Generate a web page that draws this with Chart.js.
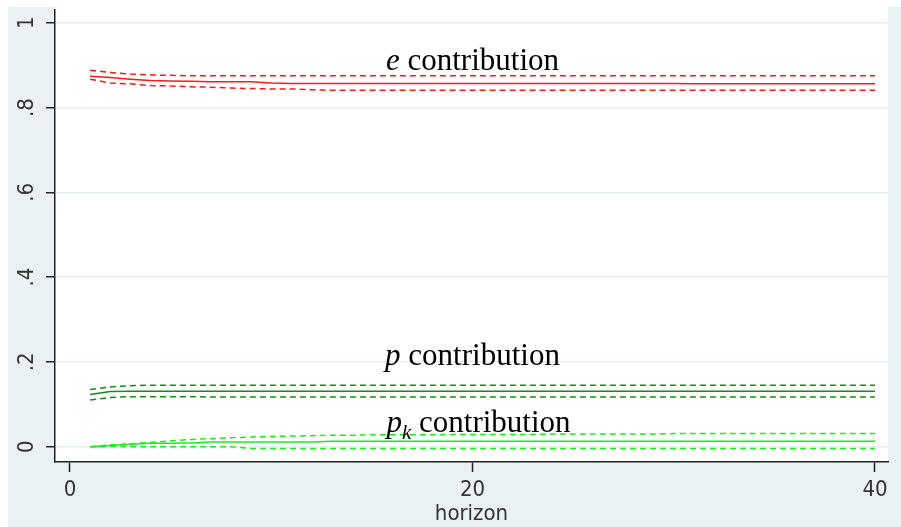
<!doctype html>
<html lang="en">
<head>
  <meta charset="utf-8">
  <title>Variance decomposition</title>
  <style>
    * { margin: 0; padding: 0; }
    body { background: white; }
    .chartBox { width: 901px; height: 527px; }
  </style>
</head>
<body>
  <div class="chartBox">
    <canvas id="myChart"></canvas>
  </div>
  <script src="https://cdn.jsdelivr.net/npm/chart.js"></script>
  <script>
    // data
    const horizon = [1, 2, 3, 4, 5, 6, 7, 8, 9, 10, 11, 12, 13, 14, 15, 16, 17, 18, 19, 20,
      21, 22, 23, 24, 25, 26, 27, 28, 29, 30, 31, 32, 33, 34, 35, 36, 37, 38, 39, 40];

    // e contribution
    const eMid = [0.874, 0.871, 0.867, 0.864, 0.863, 0.862, 0.861, 0.861, 0.861, 0.858,
      0.857, 0.857, 0.857, 0.857, 0.857, 0.857, 0.857, 0.857, 0.857, 0.857,
      0.857, 0.857, 0.857, 0.857, 0.857, 0.857, 0.857, 0.857, 0.857, 0.857,
      0.856, 0.856, 0.856, 0.856, 0.856, 0.856, 0.856, 0.856, 0.856, 0.856];
    const eHi = [0.888, 0.883, 0.879, 0.877, 0.876, 0.875, 0.875, 0.875, 0.875, 0.875,
      0.875, 0.875, 0.875, 0.875, 0.875, 0.875, 0.875, 0.875, 0.875, 0.875,
      0.875, 0.875, 0.875, 0.875, 0.875, 0.875, 0.875, 0.875, 0.875, 0.875,
      0.875, 0.875, 0.875, 0.875, 0.875, 0.875, 0.875, 0.875, 0.875, 0.875];
    const eLo = [0.867, 0.858, 0.856, 0.852, 0.851, 0.849, 0.848, 0.846, 0.845, 0.844,
      0.844, 0.842, 0.841, 0.841, 0.841, 0.841, 0.841, 0.841, 0.841, 0.841,
      0.841, 0.841, 0.841, 0.841, 0.841, 0.841, 0.841, 0.841, 0.841, 0.841,
      0.841, 0.841, 0.841, 0.841, 0.841, 0.841, 0.841, 0.841, 0.841, 0.841];

    // p contribution
    const pMid = [0.123, 0.130, 0.131, 0.131, 0.131, 0.131, 0.131, 0.131, 0.131, 0.131,
      0.131, 0.131, 0.131, 0.131, 0.131, 0.131, 0.131, 0.131, 0.131, 0.131,
      0.131, 0.131, 0.131, 0.131, 0.131, 0.131, 0.131, 0.131, 0.131, 0.131,
      0.131, 0.131, 0.131, 0.131, 0.131, 0.131, 0.131, 0.131, 0.131, 0.131];
    const pHi = [0.135, 0.141, 0.144, 0.145, 0.145, 0.145, 0.145, 0.145, 0.145, 0.145,
      0.145, 0.145, 0.145, 0.145, 0.145, 0.145, 0.145, 0.145, 0.145, 0.145,
      0.145, 0.145, 0.145, 0.145, 0.145, 0.145, 0.145, 0.145, 0.145, 0.145,
      0.145, 0.145, 0.145, 0.145, 0.145, 0.145, 0.145, 0.145, 0.145, 0.145];
    const pLo = [0.110, 0.116, 0.118, 0.118, 0.118, 0.118, 0.117, 0.117, 0.117, 0.117,
      0.117, 0.117, 0.117, 0.117, 0.117, 0.117, 0.117, 0.117, 0.117, 0.117,
      0.117, 0.117, 0.117, 0.117, 0.117, 0.117, 0.117, 0.117, 0.117, 0.117,
      0.117, 0.117, 0.117, 0.117, 0.117, 0.117, 0.117, 0.117, 0.117, 0.117];

    // pk contribution
    const pkMid = [0.000, 0.003, 0.006, 0.008, 0.008, 0.009, 0.011, 0.011, 0.011, 0.011,
      0.011, 0.011, 0.013, 0.013, 0.013, 0.013, 0.013, 0.013, 0.013, 0.013,
      0.013, 0.013, 0.013, 0.013, 0.013, 0.013, 0.013, 0.013, 0.013, 0.013,
      0.013, 0.013, 0.013, 0.013, 0.013, 0.013, 0.013, 0.013, 0.013, 0.013];
    const pkHi = [0.000, 0.004, 0.007, 0.010, 0.014, 0.017, 0.019, 0.021, 0.023, 0.024,
      0.025, 0.026, 0.027, 0.027, 0.028, 0.028, 0.028, 0.028, 0.029, 0.029,
      0.029, 0.029, 0.029, 0.030, 0.030, 0.030, 0.030, 0.030, 0.030, 0.031,
      0.031, 0.031, 0.031, 0.031, 0.031, 0.031, 0.031, 0.031, 0.031, 0.031];
    const pkLo = [0.000, 0.001, 0.000, 0.000, 0.000, 0.000, 0.000, 0.000, -0.004, -0.004,
      -0.004, -0.004, -0.004, -0.004, -0.004, -0.004, -0.004, -0.004, -0.004, -0.004,
      -0.004, -0.004, -0.004, -0.004, -0.004, -0.004, -0.004, -0.004, -0.004, -0.004,
      -0.004, -0.004, -0.004, -0.004, -0.004, -0.004, -0.004, -0.004, -0.004, -0.004];

    // ticks
    const xTicks = [0, 20, 40];
    const xTickLabels = ['0', '20', '40'];
    const yTicks = [0, 0.2, 0.4, 0.6, 0.8, 1];
    const yTickLabels = ['0', '.2', '.4', '.6', '.8', '1'];

    // text labels: [italic part, subscript, rest, x, y]
    const notes = [
      ['e', '', ' contribution', 20, 0.889],
      ['p', '', ' contribution', 20, 0.192],
      ['p', 'k', ' contribution', 20.3, 0.035]
    ];

    const RED = '#ff1a1a';
    const DKGREEN = '#158c15';
    const LIME = '#19f019';
    const axisFont = '"Liberation Sans Narrow", "DejaVu Sans Condensed", "Arial Narrow", sans-serif';
    const serif = '"Liberation Serif", "Times New Roman", serif';

    function pts(vals) {
      return vals.map((v, i) => ({ x: horizon[i], y: v }));
    }

    function line(vals, color, dashed) {
      return {
        data: pts(vals),
        borderColor: color,
        borderWidth: 1.5,
        borderDash: dashed ? [6, 4] : [],
        pointRadius: 0,
        tension: 0,
        fill: false
      };
    }

    const backdrop = {
      id: 'backdrop',
      beforeDraw(chart) {
        const { ctx, chartArea: a, width, height } = chart;
        ctx.save();
        ctx.fillStyle = 'white';
        ctx.fillRect(0, 0, width, height);
        ctx.fillStyle = '#e9f1f3';
        ctx.fillRect(8, 7, width - 8, height - 7);
        ctx.fillStyle = 'white';
        ctx.fillRect(a.left, 0, a.right - a.left, a.bottom);
        ctx.restore();
      }
    };

    const textLabels = {
      id: 'textLabels',
      afterDatasetsDraw(chart) {
        const { ctx, scales } = chart;
        ctx.save();
        ctx.fillStyle = 'black';
        ctx.textBaseline = 'alphabetic';
        notes.forEach(n => {
          const [it, sub, rest, hx, vy] = n;
          const fIt = 'italic 31px ' + serif;
          const fSub = 'italic 21px ' + serif;
          const fRest = '31px ' + serif;
          ctx.font = fIt; const w1 = ctx.measureText(it).width;
          ctx.font = fSub; const w2 = sub ? ctx.measureText(sub).width : 0;
          ctx.font = fRest; const w3 = ctx.measureText(rest).width;
          let x = scales.x.getPixelForValue(hx) - (w1 + w2 + w3) / 2;
          const y = scales.y.getPixelForValue(vy);
          ctx.font = fIt; ctx.fillText(it, x, y); x += w1;
          if (sub) { ctx.font = fSub; ctx.fillText(sub, x, y + 7); x += w2; }
          ctx.font = fRest; ctx.fillText(rest, x, y);
        });
        ctx.restore();
      }
    };

    const config = {
      type: 'line',
      data: {
        datasets: [
          line(eHi, RED, true), line(eLo, RED, true), line(eMid, RED, false),
          line(pHi, DKGREEN, true), line(pLo, DKGREEN, true), line(pMid, DKGREEN, false),
          line(pkHi, LIME, true), line(pkLo, LIME, true), line(pkMid, LIME, false)
        ]
      },
      options: {
        responsive: true,
        maintainAspectRatio: false,
        animation: false,
        layout: { padding: { top: 10, right: 13, left: 0, bottom: 0 } },
        plugins: { legend: { display: false }, tooltip: { enabled: false } },
        scales: {
          x: {
            type: 'linear',
            min: -0.745,
            max: 40.646,
            afterBuildTicks: s => { s.ticks = xTicks.map(v => ({ value: v })); },
            afterFit: s => { s.height = 65; s.paddingLeft = 0; s.paddingRight = 0; },
            grid: { drawOnChartArea: false, tickLength: 10, tickColor: '#222', tickWidth: 1.5 },
            border: { color: '#222', width: 1.5 },
            ticks: {
              autoSkip: false,
              maxRotation: 0,
              padding: 5,
              color: '#333',
              font: { family: axisFont, size: 22 },
              callback: (v, i) => xTickLabels[i]
            },
            title: {
              display: true,
              text: 'horizon',
              color: '#333',
              padding: 0,
              font: { family: axisFont, size: 22 }
            }
          },
          y: {
            type: 'linear',
            min: -0.0361,
            max: 1.0302,
            afterBuildTicks: s => { s.ticks = yTicks.map(v => ({ value: v })); },
            afterFit: s => { s.width = 55; s.paddingTop = 0; s.paddingBottom = 0; },
            grid: { color: '#e8eeee', lineWidth: 1.5, tickLength: 9, tickColor: '#222', tickWidth: 1.5 },
            border: { color: '#222', width: 1.5 },
            ticks: {
              autoSkip: false,
              minRotation: 90,
              maxRotation: 90,
              crossAlign: 'center',
              padding: 9,
              color: '#333',
              font: { family: axisFont, size: 22 },
              callback: (v, i) => yTickLabels[i]
            }
          }
        }
      },
      plugins: [backdrop, textLabels]
    };

    const myChart = new Chart(document.getElementById('myChart'), config);
  </script>
</body>
</html>
